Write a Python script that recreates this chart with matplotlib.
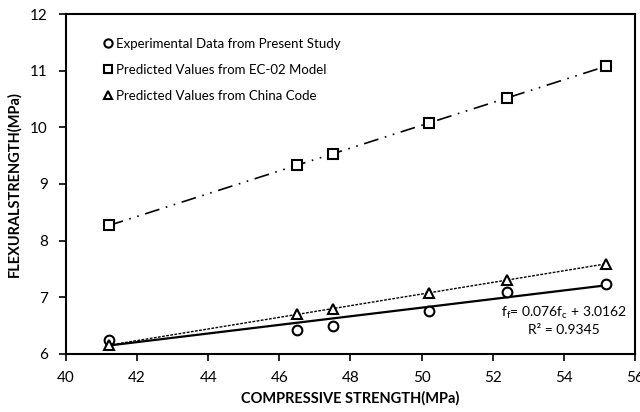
import matplotlib
matplotlib.use("Agg")
import matplotlib.pyplot as plt
import numpy as np

# compressive strength of the mixes (MPa)
fc = [41.2, 46.5, 47.5, 50.2, 52.4, 55.2]
# flexural strength (MPa)
experimental = [6.24, 6.42, 6.50, 6.76, 7.10, 7.23]
ec02 = [8.27, 9.33, 9.53, 10.07, 10.51, 11.09]
china = [6.15, 6.70, 6.80, 7.08, 7.30, 7.59]

# linear fit reported on the chart
slope = 0.076
intercept = 3.0162
r2 = 0.9345

plt.rcParams['font.family'] = ['Lato', 'DejaVu Sans']

fig = plt.figure(figsize=(6.4, 4.12), dpi=100)
ax = fig.add_axes([0.103, 0.141, 0.889, 0.825])

fc_arr = np.array(fc)
mk = dict(markersize=7, markerfacecolor='white', markeredgecolor='black',
          markeredgewidth=1.5, linestyle='none', color='black')

# trend lines
ax.plot(fc_arr, slope * fc_arr + intercept, color='black', lw=1.6)
p = np.polyfit(fc, china, 1)
ax.plot(fc_arr, np.polyval(p, fc_arr), color='black', lw=1.0, ls=(0, (2, 1)))
p2 = np.polyfit(fc, ec02, 1)
ax.plot(fc_arr, np.polyval(p2, fc_arr), color='black', lw=1.2,
        ls=(0, (9, 4, 1, 4, 1, 4)))

ax.plot(fc, experimental, marker='o', label='Experimental Data from Present Study', **mk)
ax.plot(fc, ec02, marker='s', label='Predicted Values from EC-02 Model', **mk)
ax.plot(fc, china, marker='^', label='Predicted Values from China Code', **mk)

ax.set_xlim(40, 56)
ax.set_ylim(6, 12)
ax.set_xticks(range(40, 57, 2))
ax.set_yticks(range(6, 13))
ax.tick_params(direction='out', length=5, width=1.2, labelsize=11, top=False, right=False)
ax.tick_params(axis='x', pad=7)
ax.tick_params(axis='y', pad=8)
for s in ax.spines.values():
    s.set_linewidth(1.5)

ax.set_xlabel('COMPRESSIVE STRENGTH(MPa)', fontsize=10.5, fontweight='bold', labelpad=5)
ax.set_ylabel('FLEXURALSTRENGTH(MPa)', fontsize=10.5, fontweight='bold', labelpad=6)

ax.legend(loc='upper left', frameon=False, fontsize=9.5, handletextpad=0.15,
          handlelength=0.9, labelspacing=1.05, bbox_to_anchor=(0.055, 0.945),
          borderaxespad=0, markerscale=0.85)

ax.text(54.0, 6.72, r'f$_\mathregular{f}$= %.3ff$_\mathregular{c}$ + %.4f' % (slope, intercept),
        ha='center', va='center', fontsize=10)
ax.text(54.0, 6.42, 'R² = %.4f' % r2, ha='center', va='center', fontsize=10)

fig.savefig('out.png', dpi=100)
